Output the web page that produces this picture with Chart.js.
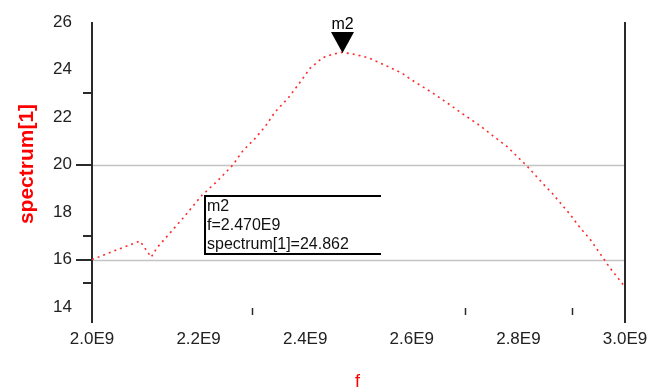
<!DOCTYPE html>
<html>
<head>
<meta charset="utf-8">
<script src="https://cdn.jsdelivr.net/npm/chart.js@4"></script>
<style>
  html, body { margin: 0; padding: 0; background: #fff; }
  #c { display: block; }
</style>
</head>
<body>
<canvas id="c" width="652" height="392" style="width:652px;height:392px"></canvas>
<script>
// ---- data (frequency in units of 1E9 Hz) ----
const freqGHz = [2.000, 2.034, 2.090, 2.111, 2.122, 2.171, 2.206, 2.235, 2.265, 2.283,
                 2.306, 2.325, 2.343, 2.368, 2.390, 2.409, 2.433, 2.452, 2.469, 2.488,
                 2.518, 2.550, 2.582, 2.597, 2.638, 2.668, 2.700, 2.724, 2.747, 2.779,
                 2.816, 2.850, 2.863, 2.897, 2.916, 2.934, 2.961, 2.972, 3.000];
const spectrum = [16.00, 16.30, 16.78, 16.10, 16.50, 17.75, 18.70, 19.30, 20.00, 20.58,
                  21.10, 21.60, 22.20, 22.80, 23.45, 24.05, 24.50, 24.65, 24.72, 24.66,
                  24.50, 24.18, 23.84, 23.60, 23.03, 22.57, 22.06, 21.70, 21.30, 20.75,
                  19.94, 19.10, 18.80, 17.90, 17.33, 16.87, 16.00, 15.64, 14.85];
const xTickValues = [2.0, 2.2, 2.4, 2.6, 2.8, 3.0];
const xMinorTicks = [2.3, 2.7, 2.9];
const yTickLabels = [14, 16, 18, 20, 22, 24, 26];
const yMajorTicks = [16, 20];
const yMinorTicks = [15, 17, 23];
const gridValues = [16, 20];
const markerName = 'm2';
const markerFreq = 2.470;
const markerValue = 24.862;

const points = freqGHz.map((f, i) => ({ x: f, y: spectrum[i] }));
const FONT = '"Liberation Sans", Arial, sans-serif';

const decor = {
  id: 'decor',
  beforeDatasetsDraw(chart) {
    const ctx = chart.ctx, a = chart.chartArea;
    const xs = chart.scales.x, ys = chart.scales.y;
    ctx.save();
    ctx.strokeStyle = '#c4c4c4';
    ctx.lineWidth = 1.5;
    gridValues.forEach(v => {
      const y = Math.round(ys.getPixelForValue(v)) + 0.5;
      ctx.beginPath(); ctx.moveTo(a.left, y); ctx.lineTo(a.right, y); ctx.stroke();
    });
    ctx.strokeStyle = '#2a2a2a';
    ctx.lineWidth = 2;
    [a.left, a.right].forEach(x => {
      ctx.beginPath(); ctx.moveTo(x, a.top); ctx.lineTo(x, a.bottom); ctx.stroke();
    });
    yMajorTicks.forEach(v => {
      const y = Math.round(ys.getPixelForValue(v));
      ctx.beginPath(); ctx.moveTo(a.left - 16, y); ctx.lineTo(a.left, y); ctx.stroke();
    });
    yMinorTicks.forEach(v => {
      const y = Math.round(ys.getPixelForValue(v));
      ctx.beginPath(); ctx.moveTo(a.left - 9, y); ctx.lineTo(a.left, y); ctx.stroke();
    });
    ctx.lineWidth = 1.5;
    xMinorTicks.forEach(v => {
      const x = Math.round(xs.getPixelForValue(v)) + 0.5;
      ctx.beginPath(); ctx.moveTo(x, a.bottom - 15); ctx.lineTo(x, a.bottom - 8); ctx.stroke();
    });
    ctx.restore();
  },
  afterDatasetsDraw(chart) {
    const ctx = chart.ctx, a = chart.chartArea;
    const xs = chart.scales.x, ys = chart.scales.y;
    ctx.save();
    const mx = xs.getPixelForValue(markerFreq);
    const my = ys.getPixelForValue(markerValue) + 4;
    ctx.fillStyle = '#000';
    ctx.beginPath();
    ctx.moveTo(mx - 11.5, my - 21);
    ctx.lineTo(mx + 11.5, my - 21);
    ctx.lineTo(mx, my);
    ctx.closePath(); ctx.fill();
    ctx.font = '16px ' + FONT;
    ctx.textAlign = 'center'; ctx.textBaseline = 'alphabetic';
    ctx.fillText(markerName, mx, my - 24);
    const bx = a.left + 113, by = a.top + 174, bw = 176, bh = 58;
    ctx.strokeStyle = '#000'; ctx.lineWidth = 2;
    ctx.beginPath();
    ctx.moveTo(bx + bw, by); ctx.lineTo(bx, by); ctx.lineTo(bx, by + bh); ctx.lineTo(bx + bw, by + bh);
    ctx.stroke();
    ctx.textAlign = 'left';
    ctx.fillStyle = '#111';
    ctx.font = '16px ' + FONT;
    ctx.fillText(markerName, bx + 2, by + 15);
    ctx.fillText('f=' + markerFreq.toFixed(3) + 'E9', bx + 2, by + 34);
    ctx.fillText('spectrum[1]=' + markerValue.toFixed(3), bx + 2, by + 53);
    ctx.fillStyle = '#ff0000';
    ctx.font = 'bold 21px ' + FONT;
    ctx.textAlign = 'center'; ctx.textBaseline = 'middle';
    ctx.save();
    ctx.translate(27, a.top + 142);
    ctx.rotate(-Math.PI / 2);
    ctx.fillText('spectrum[1]', 0, 0);
    ctx.restore();
    ctx.font = '18px ' + FONT;
    ctx.fillText('f', (a.left + a.right) / 2 - 1, 382);
    ctx.restore();
  }
};

new Chart(document.getElementById('c'), {
  type: 'line',
  data: {
    datasets: [{
      data: points,
      borderColor: '#ff2a2a',
      borderWidth: 1.6,
      borderDash: [2, 4],
      pointRadius: 0,
      tension: 0,
      fill: false
    }]
  },
  options: {
    responsive: false,
    animation: false,
    layout: { padding: { left: 0, right: 27, top: 22, bottom: 0 } },
    plugins: { legend: { display: false }, tooltip: { enabled: false } },
    scales: {
      x: {
        type: 'linear', min: 2.0, max: 3.0,
        grid: { display: false, drawTicks: false },
        border: { display: false },
        afterBuildTicks: s => { s.ticks = xTickValues.map(v => ({ value: v })); },
        afterFit: s => { s.height = 69; s.paddingLeft = 0; s.paddingRight = 0; },
        ticks: {
          padding: 6, maxRotation: 0, autoSkip: false,
          color: '#222', font: { family: FONT, size: 17 },
          callback: v => Number(v).toFixed(1) + 'E9'
        }
      },
      y: {
        type: 'linear', min: 13.33, max: 26,
        grid: { display: false, drawTicks: false },
        border: { display: false },
        afterBuildTicks: s => { s.ticks = yTickLabels.map(v => ({ value: v })); },
        afterFit: s => { s.width = 92; s.paddingTop = 0; s.paddingBottom = 0; },
        ticks: {
          padding: 20, autoSkip: false,
          color: '#222', font: { family: FONT, size: 17 },
          callback: v => String(v)
        }
      }
    }
  },
  plugins: [decor]
});
</script>
</body>
</html>
